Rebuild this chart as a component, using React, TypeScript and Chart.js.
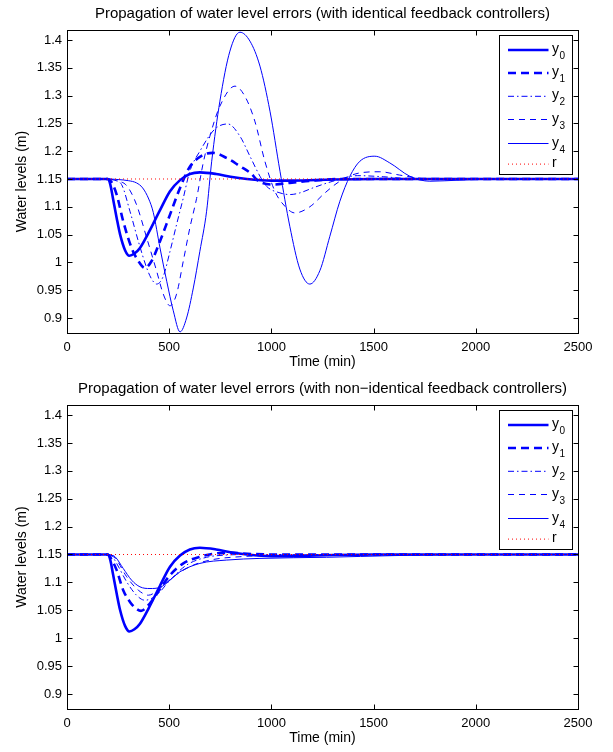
import React, { useEffect, useRef } from 'react';
import { Chart, registerables } from 'chart.js';
Chart.register(...registerables);

// ---------- data ----------
const X_TICKS = [0, 500, 1000, 1500, 2000, 2500];
const Y_TICKS = [0.9, 0.95, 1, 1.05, 1.1, 1.15, 1.2, 1.25, 1.3, 1.35, 1.4];
const LEGEND_BASE = ['y', 'y', 'y', 'y', 'y', 'r'];
const LEGEND_SUB = ['0', '1', '2', '3', '4', ''];
const TITLE_TOP = 'Propagation of water level errors (with identical feedback controllers)';
const TITLE_BOTTOM = 'Propagation of water level errors (with non\u2212identical feedback controllers)';
const X_LABEL = 'Time (min)';
const Y_LABEL = 'Water levels (m)';

const R_T = [0, 2500];
const R_V = [1.15, 1.15];

const Y0_T = [0, 200, 212, 225, 243, 260, 284, 305, 330, 357, 400, 455, 504, 553, 601, 650, 730, 800, 880, 1000, 1100, 1300, 1500, 2500];
const Y0_V = [1.15, 1.15, 1.14, 1.115, 1.08, 1.05, 1.022, 1.012, 1.016, 1.026, 1.054, 1.094, 1.128, 1.148, 1.159, 1.162, 1.159, 1.154, 1.15, 1.147, 1.147, 1.149, 1.15, 1.15];

// top chart (identical controllers)
const TOP_Y1_T = [0, 200, 215, 243, 275, 316, 349, 381, 414, 455, 504, 553, 601, 660, 714, 780, 846, 900, 934, 1007, 1090, 1200, 1350, 2500];
const TOP_Y1_V = [1.15, 1.15, 1.146, 1.122, 1.074, 1.026, 1.0025, 0.99, 1.0025, 1.038, 1.086, 1.134, 1.172, 1.192, 1.197, 1.188, 1.173, 1.16, 1.147, 1.14, 1.143, 1.147, 1.15, 1.15];

const TOP_Y2_T = [0, 200, 230, 267, 308, 349, 390, 414, 438, 471, 504, 536, 569, 601, 650, 724, 787, 846, 895, 944, 976, 1042, 1090, 1139, 1203, 1301, 1420, 1550, 1700, 2500];
const TOP_Y2_V = [1.15, 1.15, 1.148, 1.14, 1.092, 1.038, 0.99, 0.97, 0.961, 0.975, 1.02, 1.068, 1.116, 1.164, 1.2, 1.24, 1.249, 1.227, 1.191, 1.155, 1.137, 1.125, 1.122, 1.125, 1.134, 1.146, 1.156, 1.154, 1.15, 1.15];

const TOP_Y3_T = [0, 200, 240, 292, 340, 390, 438, 471, 504, 536, 569, 601, 634, 667, 699, 748, 822, 870, 919, 968, 1017, 1066, 1115, 1188, 1262, 1335, 1433, 1531, 1628, 1775, 2500];
const TOP_Y3_V = [1.15, 1.15, 1.147, 1.138, 1.104, 1.044, 0.985, 0.943, 0.922, 0.943, 1.0025, 1.062, 1.115, 1.18, 1.227, 1.281, 1.317, 1.299, 1.254, 1.182, 1.128, 1.101, 1.089, 1.1, 1.125, 1.146, 1.161, 1.163, 1.157, 1.15, 1.15];

const TOP_Y4_T = [0, 200, 250, 300, 340, 370, 400, 422, 455, 488, 520, 553, 585, 618, 650, 683, 708, 748, 797, 846, 895, 944, 993, 1042, 1090, 1139, 1188, 1237, 1286, 1335, 1384, 1433, 1506, 1579, 1677, 1775, 1922, 2100, 2500];
const TOP_Y4_V = [1.15, 1.15, 1.149, 1.147, 1.143, 1.134, 1.114, 1.09, 1.026, 0.966, 0.913, 0.875, 0.9, 0.954, 1.02, 1.092, 1.182, 1.29, 1.38, 1.414, 1.398, 1.353, 1.272, 1.164, 1.065, 0.988, 0.961, 0.985, 1.047, 1.11, 1.155, 1.182, 1.191, 1.179, 1.155, 1.146, 1.148, 1.15, 1.15];

// bottom chart (non-identical controllers)
const BOT_Y1_T = [0, 200, 215, 243, 275, 308, 335, 362, 406, 455, 504, 569, 650, 732, 800, 900, 1000, 2500];
const BOT_Y1_V = [1.15, 1.15, 1.143, 1.122, 1.086, 1.065, 1.054, 1.049, 1.0625, 1.088, 1.113, 1.134, 1.146, 1.152, 1.153, 1.151, 1.15, 1.15];

const BOT_Y2_T = [0, 200, 220, 243, 292, 340, 381, 438, 504, 585, 683, 780, 900, 2500];
const BOT_Y2_V = [1.15, 1.15, 1.147, 1.134, 1.101, 1.077, 1.068, 1.077, 1.104, 1.131, 1.145, 1.149, 1.15, 1.15];

const BOT_Y3_T = [0, 200, 220, 243, 292, 349, 398, 455, 520, 618, 715, 846, 1107, 1400, 2500];
const BOT_Y3_V = [1.15, 1.15, 1.148, 1.14, 1.11, 1.086, 1.077, 1.089, 1.11, 1.131, 1.141, 1.146, 1.149, 1.15, 1.15];

const BOT_Y4_T = [0, 200, 215, 235, 275, 316, 357, 406, 455, 504, 553, 650, 781, 944, 1270, 1600, 2000, 2500];
const BOT_Y4_V = [1.15, 1.15, 1.149, 1.146, 1.125, 1.104, 1.092, 1.089, 1.091, 1.104, 1.119, 1.134, 1.14, 1.143, 1.145, 1.148, 1.15, 1.15];

// ---------- styles ----------
const FONT = '"Liberation Sans", Arial, Helvetica, sans-serif';
const BLUE = '#0000ff';
const STYLES = [
  { width: 2.6, dash: [] as number[], color: BLUE },
  { width: 2.6, dash: [8, 5], color: BLUE },
  { width: 1, dash: [6, 3, 1.5, 3], color: BLUE },
  { width: 1, dash: [6, 5], color: BLUE },
  { width: 1, dash: [] as number[], color: BLUE },
  { width: 1, dash: [1, 3], color: '#ff0000' },
];

const pts = (t: number[], v: number[]) => t.map((x, i) => ({ x, y: v[i] }));
const fmt = (v: number) => String(Number(v.toFixed(2)));

const framePlugin = {
  id: 'frameAndLegend',
  afterDatasetsDraw(chart: any, _args: any, opts: any) {
    const { ctx, chartArea: a, scales } = chart;
    const xs = scales.x, ys = scales.y;
    ctx.save();

    // title centered over plot area
    ctx.fillStyle = '#000';
    ctx.textAlign = 'center';
    ctx.textBaseline = 'alphabetic';
    ctx.font = `15px ${FONT}`;
    ctx.fillText(opts.title || '', (a.left + a.right) / 2, 18);

    ctx.strokeStyle = '#000';
    ctx.lineWidth = 1;
    ctx.setLineDash([]);
    ctx.beginPath();
    const L = Math.round(a.left) + 0.5, R = Math.round(a.right) + 0.5;
    const T = Math.round(a.top) + 0.5, B = Math.round(a.bottom) + 0.5;
    for (const tk of xs.ticks) {
      const px = Math.round(xs.getPixelForValue(tk.value)) + 0.5;
      ctx.moveTo(px, B); ctx.lineTo(px, B - 5);
      ctx.moveTo(px, T); ctx.lineTo(px, T + 5);
    }
    for (const tk of ys.ticks) {
      const py = Math.round(ys.getPixelForValue(tk.value)) + 0.5;
      ctx.moveTo(L, py); ctx.lineTo(L + 5, py);
      ctx.moveTo(R, py); ctx.lineTo(R - 5, py);
    }
    ctx.stroke();
    ctx.strokeRect(L, T, R - L, B - T);

    // legend box
    const bx = Math.round(a.right - 79) + 0.5;
    const by = Math.round(a.top + 5) + 0.5;
    const bw = 73, bh = 139;
    ctx.fillStyle = '#fff';
    ctx.fillRect(bx, by, bw, bh);
    ctx.strokeStyle = '#000';
    ctx.strokeRect(bx, by, bw, bh);
    const rows = [14.5, 37.5, 60.8, 84, 108, 128.6];
    chart.data.datasets.forEach((ds: any, i: number) => {
      const st = STYLES[i];
      const ry = by + rows[i];
      ctx.beginPath();
      ctx.strokeStyle = st.color;
      ctx.lineWidth = st.width;
      ctx.setLineDash(st.dash);
      ctx.moveTo(bx + 8.5, ry);
      ctx.lineTo(bx + 49, ry);
      ctx.stroke();
      ctx.setLineDash([]);
      ctx.fillStyle = '#000';
      ctx.textAlign = 'left';
      ctx.textBaseline = 'alphabetic';
      ctx.font = `14px ${FONT}`;
      ctx.fillText(LEGEND_BASE[i], bx + 52.5, ry + 3);
      if (LEGEND_SUB[i]) {
        ctx.font = `10px ${FONT}`;
        ctx.fillText(LEGEND_SUB[i], bx + 60, ry + 9);
      }
    });
    ctx.restore();
  },
};

function makeConfig(title: string, series: { t: number[]; v: number[] }[]) {
  const tickFont = { family: FONT, size: 13, weight: 'normal' as const };
  const labelFont = { family: FONT, size: 14, weight: 'normal' as const };
  return {
    type: 'line' as const,
    data: {
      datasets: series.map((s, i) => ({
        label: LEGEND_BASE[i] + LEGEND_SUB[i],
        data: pts(s.t, s.v),
        borderColor: STYLES[i].color,
        borderWidth: STYLES[i].width,
        borderDash: STYLES[i].dash,
        pointRadius: 0,
        fill: false,
        cubicInterpolationMode: 'monotone' as const,
        order: -i,
      })),
    },
    options: {
      animation: false as const,
      responsive: false,
      events: [],
      layout: { padding: { top: 30, left: 0, right: 35, bottom: 0 } },
      plugins: {
        legend: { display: false },
        tooltip: { enabled: false },
        title: { display: false },
        frameAndLegend: { title },
      },
      scales: {
        x: {
          type: 'linear' as const,
          min: 0,
          max: 2500,
          afterBuildTicks: (s: any) => { s.ticks = X_TICKS.map((value) => ({ value })); },
          afterFit: (s: any) => { s.height = 43; },
          ticks: { color: '#000', font: tickFont, padding: 7, maxRotation: 0, autoSkip: false, callback: (v: any) => String(v) },
          grid: { display: false, drawTicks: false },
          border: { display: false },
          title: { display: true, text: X_LABEL, color: '#000', font: labelFont, padding: { top: 0, bottom: 5.6 } },
        },
        y: {
          type: 'linear' as const,
          min: 0.873,
          max: 1.418,
          afterBuildTicks: (s: any) => { s.ticks = Y_TICKS.map((value) => ({ value })); },
          afterFit: (s: any) => { s.width = 67; },
          ticks: { color: '#000', font: tickFont, padding: 5, autoSkip: false, callback: (v: any) => fmt(Number(v)) },
          grid: { display: false, drawTicks: false },
          border: { display: false },
          title: { display: true, text: Y_LABEL, color: '#000', font: labelFont, padding: { top: 13.6, bottom: 0 } },
        },
      },
    },
    plugins: [framePlugin],
  };
}

function ChartCanvas({ title, series, top, height }: { title: string; series: { t: number[]; v: number[] }[]; top: number; height: number }) {
  const ref = useRef<HTMLCanvasElement | null>(null);
  useEffect(() => {
    if (!ref.current) return;
    const chart = new Chart(ref.current, makeConfig(title, series) as any);
    return () => chart.destroy();
  }, []);
  return (
    <canvas
      ref={ref}
      width={613}
      height={height}
      style={{ position: 'absolute', left: 0, top, width: 613, height, display: 'block' }}
    />
  );
}

export default function App() {
  const topSeries = [
    { t: Y0_T, v: Y0_V },
    { t: TOP_Y1_T, v: TOP_Y1_V },
    { t: TOP_Y2_T, v: TOP_Y2_V },
    { t: TOP_Y3_T, v: TOP_Y3_V },
    { t: TOP_Y4_T, v: TOP_Y4_V },
    { t: R_T, v: R_V },
  ];
  const botSeries = [
    { t: Y0_T, v: Y0_V },
    { t: BOT_Y1_T, v: BOT_Y1_V },
    { t: BOT_Y2_T, v: BOT_Y2_V },
    { t: BOT_Y3_T, v: BOT_Y3_V },
    { t: BOT_Y4_T, v: BOT_Y4_V },
    { t: R_T, v: R_V },
  ];
  return (
    <div style={{ position: 'absolute', left: 0, top: 0, width: 613, height: 752, background: '#fff' }}>
      <ChartCanvas title={TITLE_TOP} series={topSeries} top={0} height={376} />
      <ChartCanvas title={TITLE_BOTTOM} series={botSeries} top={375} height={377} />
    </div>
  );
}
